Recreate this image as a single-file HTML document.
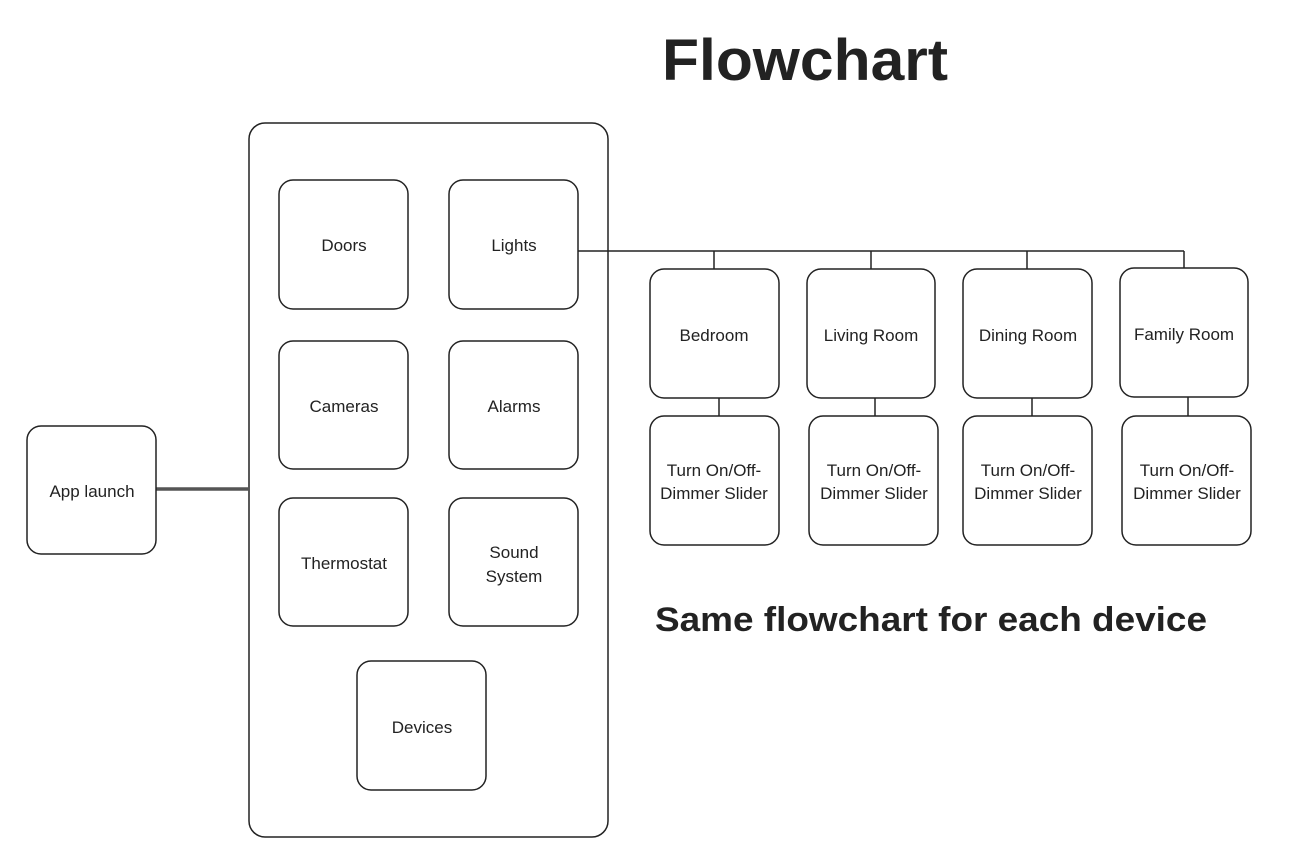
<!DOCTYPE html>
<html><head><meta charset="utf-8"><style>
html,body{margin:0;padding:0;background:#fff;}
svg{display:block;}
text{font-family:"Liberation Sans",sans-serif;fill:#222;}
.b{fill:#fff;stroke:#222;stroke-width:1.5;}
.t{font-size:17px;text-anchor:middle;}
</style></head><body>
<svg width="1296" height="864" viewBox="0 0 1296 864">
<text x="805" y="80" font-size="58" font-weight="bold" text-anchor="middle" textLength="286" lengthAdjust="spacingAndGlyphs">Flowchart</text>
<rect class="b" x="249" y="123" width="359" height="714" rx="16"/>
<line x1="156" y1="489" x2="249" y2="489" stroke="#555" stroke-width="3.5"/>
<g fill="none" stroke="#222" stroke-width="1.5">
<polyline points="578,251 1184,251"/>
<line x1="714" y1="251" x2="714" y2="269"/>
<line x1="871" y1="251" x2="871" y2="269"/>
<line x1="1027" y1="251" x2="1027" y2="269"/>
<line x1="1184" y1="251" x2="1184" y2="268"/>
<line x1="719" y1="398" x2="719" y2="416"/>
<line x1="875" y1="398" x2="875" y2="416"/>
<line x1="1032" y1="398" x2="1032" y2="416"/>
<line x1="1188" y1="397" x2="1188" y2="416"/>
</g>
<rect class="b" x="27" y="426" width="129" height="128" rx="14"/>
<text class="t" x="92" y="497">App launch</text>
<rect class="b" x="279" y="180" width="129" height="129" rx="14"/>
<text class="t" x="344" y="251">Doors</text>
<rect class="b" x="449" y="180" width="129" height="129" rx="14"/>
<text class="t" x="514" y="251">Lights</text>
<rect class="b" x="279" y="341" width="129" height="128" rx="14"/>
<text class="t" x="344" y="412">Cameras</text>
<rect class="b" x="449" y="341" width="129" height="128" rx="14"/>
<text class="t" x="514" y="412">Alarms</text>
<rect class="b" x="279" y="498" width="129" height="128" rx="14"/>
<text class="t" x="344" y="569">Thermostat</text>
<rect class="b" x="449" y="498" width="129" height="128" rx="14"/>
<text class="t" x="514" y="558">Sound</text>
<text class="t" x="514" y="582">System</text>
<rect class="b" x="357" y="661" width="129" height="129" rx="14"/>
<text class="t" x="422" y="733">Devices</text>
<rect class="b" x="650" y="269" width="129" height="129" rx="14"/>
<text class="t" x="714" y="341">Bedroom</text>
<rect class="b" x="807" y="269" width="128" height="129" rx="14"/>
<text class="t" x="871" y="341">Living Room</text>
<rect class="b" x="963" y="269" width="129" height="129" rx="14"/>
<text class="t" x="1028" y="341">Dining Room</text>
<rect class="b" x="1120" y="268" width="128" height="129" rx="14"/>
<text class="t" x="1184" y="340">Family Room</text>
<rect class="b" x="650" y="416" width="129" height="129" rx="14"/>
<text class="t" x="714" y="476">Turn On/Off-</text>
<text class="t" x="714" y="499">Dimmer Slider</text>
<rect class="b" x="809" y="416" width="129" height="129" rx="14"/>
<text class="t" x="874" y="476">Turn On/Off-</text>
<text class="t" x="874" y="499">Dimmer Slider</text>
<rect class="b" x="963" y="416" width="129" height="129" rx="14"/>
<text class="t" x="1028" y="476">Turn On/Off-</text>
<text class="t" x="1028" y="499">Dimmer Slider</text>
<rect class="b" x="1122" y="416" width="129" height="129" rx="14"/>
<text class="t" x="1187" y="476">Turn On/Off-</text>
<text class="t" x="1187" y="499">Dimmer Slider</text>
<text x="655" y="631" font-size="34" font-weight="bold" textLength="552" lengthAdjust="spacingAndGlyphs">Same flowchart for each device</text>
</svg>
</body></html>
